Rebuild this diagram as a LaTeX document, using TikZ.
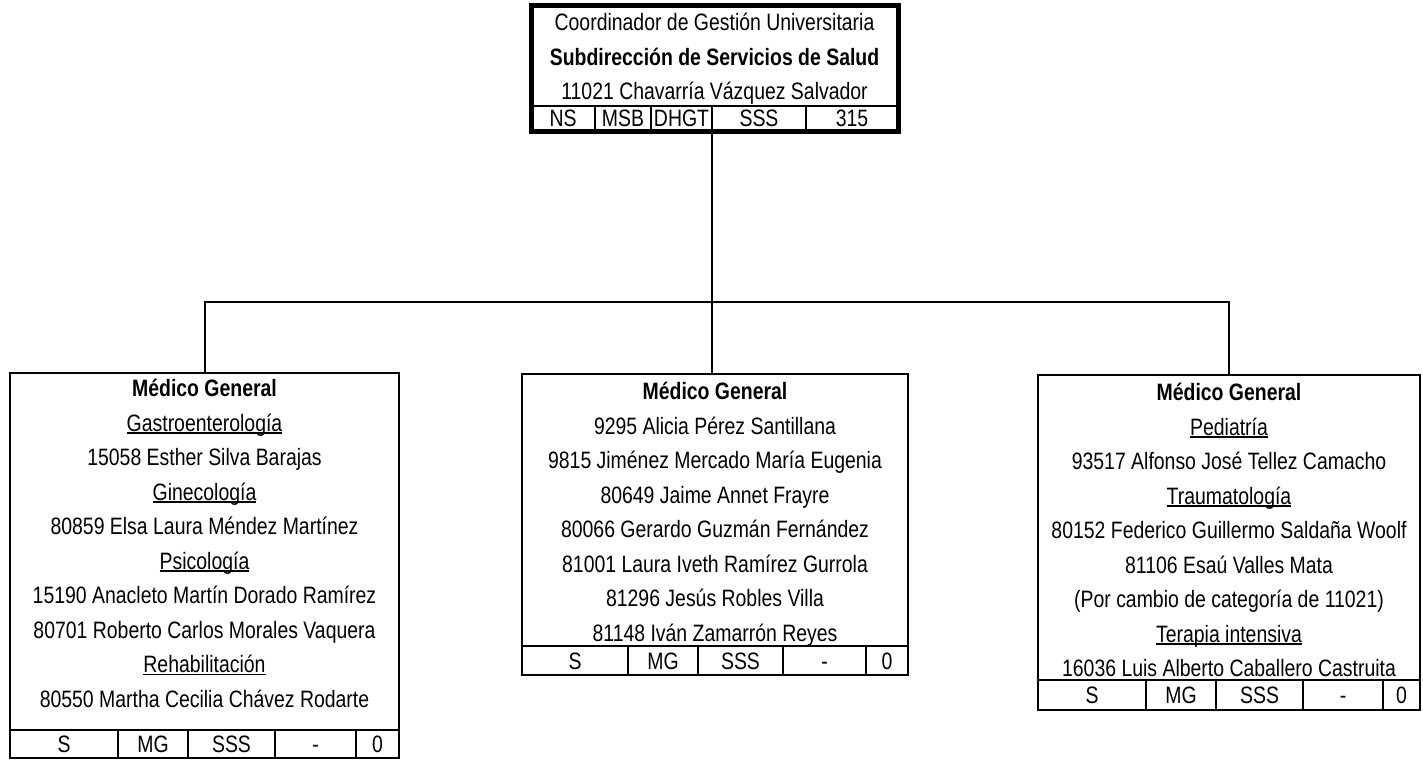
\documentclass[tikz,border=0pt]{standalone}
\usepackage{fontspec}
\setmainfont{Liberation Sans}[FakeStretch=0.82]
\newcommand{\ulx}[1]{\setbox0\hbox{#1}\rlap{\rule[-2.6bp]{\wd0}{1.4bp}}\box0}
\begin{document}
\begin{tikzpicture}[x=1bp,y=-1bp,
  box/.style={draw,line width=2bp,rectangle,inner sep=0pt},
  topbox/.style={draw,line width=5bp,rectangle,inner sep=0pt},
  txt/.style={anchor=base,inner sep=0pt,font=\fontsize{23.7bp}{30bp}\selectfont},
  bt/.style={txt,font=\fontsize{23.7bp}{30bp}\selectfont\bfseries},
  sep/.style={line width=1.8bp},
  conn/.style={line width=2bp}]
\useasboundingbox (0,0) rectangle (1423,760);
% ---------- top box ----------
\node[topbox,minimum width=367bp,minimum height=125bp] (T) at (714.5,68.5) {};
\draw[sep] (531,106) -- (898,106);
\foreach \x in {595,651,712,806} \draw[sep] (\x,106) -- (\x,131);
\node[txt] (t1) at (714.5,30.5) {Coordinador de Gestión Universitaria};
\node[bt]  (t2) at (714.5,65.5) {Subdirección de Servicios de Salud};
\node[txt] (t3) at (714.5,99.5) {11021 Chavarría Vázquez Salvador};
\node[txt] (tc1) at (563,126.5) {NS};
\node[txt] (tc2) at (623,126.5) {MSB};
\node[txt] (tc3) at (681.5,126.5) {DHGT};
\node[txt] (tc4) at (759,126.5) {SSS};
\node[txt] (tc5) at (852,126.5) {315};
% ---------- left box ----------
\node[box,minimum width=389bp,minimum height=385bp] (L) at (204.5,565.5) {};
\draw[sep] (10,730) -- (399,730);
\foreach \x in {118,188,275,356} \draw[sep] (\x,730) -- (\x,758);
\node[bt]  (l0) at (204.5,396.5) {Médico General};
\node[txt] (l1) at (204.5,431) {\ulx{Gastroenterología}};
\node[txt] (l2) at (204.5,465.5) {15058 Esther Silva Barajas};
\node[txt] (l3) at (204.5,500) {\ulx{Ginecología}};
\node[txt] (l4) at (204.5,534.5) {80859 Elsa Laura Méndez Martínez};
\node[txt] (l5) at (204.5,569) {\ulx{Psicología}};
\node[txt] (l6) at (204.5,603.5) {15190 Anacleto Martín Dorado Ramírez};
\node[txt] (l7) at (204.5,638) {80701 Roberto Carlos Morales Vaquera};
\node[txt] (l8) at (204.5,672.5) {\ulx{Rehabilitación}};
\node[txt] (l9) at (204.5,707) {80550 Martha Cecilia Chávez Rodarte};
\node[txt] (lc1) at (64,752.5) {S};
\node[txt] (lc2) at (153,752.5) {MG};
\node[txt] (lc3) at (231.5,752.5) {SSS};
\node[txt] (lc4) at (315.5,752.5) {-};
\node[txt] (lc5) at (377.5,752.5) {0};
% ---------- middle box ----------
\node[box,minimum width=386bp,minimum height=301bp] (M) at (715,524.5) {};
\draw[sep] (522,646) -- (908,646);
\foreach \x in {628,698,783,866} \draw[sep] (\x,646) -- (\x,675);
\node[bt]  (m0) at (715,399.5) {Médico General};
\node[txt] (m1) at (715,434) {9295 Alicia Pérez Santillana};
\node[txt] (m2) at (715,468.5) {9815 Jiménez Mercado María Eugenia};
\node[txt] (m3) at (715,503) {80649 Jaime Annet Frayre};
\node[txt] (m4) at (715,537.5) {80066 Gerardo Guzmán Fernández};
\node[txt] (m5) at (715,572) {81001 Laura Iveth Ramírez Gurrola};
\node[txt] (m6) at (715,606.5) {81296 Jesús Robles Villa};
\node[txt] (m7) at (715,641) {81148 Iván Zamarrón Reyes};
\node[txt] (mc1) at (575,669) {S};
\node[txt] (mc2) at (663,669) {MG};
\node[txt] (mc3) at (740.5,669) {SSS};
\node[txt] (mc4) at (824.5,669) {-};
\node[txt] (mc5) at (887,669) {0};
% ---------- right box ----------
\node[box,minimum width=382bp,minimum height=335bp] (R) at (1229,542.5) {};
\draw[sep] (1038,680) -- (1420,680);
\foreach \x in {1146,1216,1303,1383} \draw[sep] (\x,680) -- (\x,710);
\node[bt]  (r0) at (1229,400.5) {Médico General};
\node[txt] (r1) at (1229,435) {\ulx{Pediatría}};
\node[txt] (r2) at (1229,469.5) {93517 Alfonso José Tellez Camacho};
\node[txt] (r3) at (1229,504) {\ulx{Traumatología}};
\node[txt] (r4) at (1229,538.5) {80152 Federico Guillermo Saldaña Woolf};
\node[txt] (r5) at (1229,573) {81106 Esaú Valles Mata};
\node[txt] (r6) at (1229,607.5) {(Por cambio de categoría de 11021)};
\node[txt] (r7) at (1229,642) {\ulx{Terapia intensiva}};
\node[txt] (r8) at (1229,676.5) {16036 Luis Alberto Caballero Castruita};
\node[txt] (rc1) at (1092,703.5) {S};
\node[txt] (rc2) at (1181,703.5) {MG};
\node[txt] (rc3) at (1259.5,703.5) {SSS};
\node[txt] (rc4) at (1343,703.5) {-};
\node[txt] (rc5) at (1401.5,703.5) {0};
% ---------- connectors ----------
\coordinate (j) at (712,302);
\draw[conn] (j |- T.south) -- (j);
\draw[conn] (L.north) |- (j) -| (R.north);
\draw[conn] (j) -- (j |- M.north);
\end{tikzpicture}
\end{document}
